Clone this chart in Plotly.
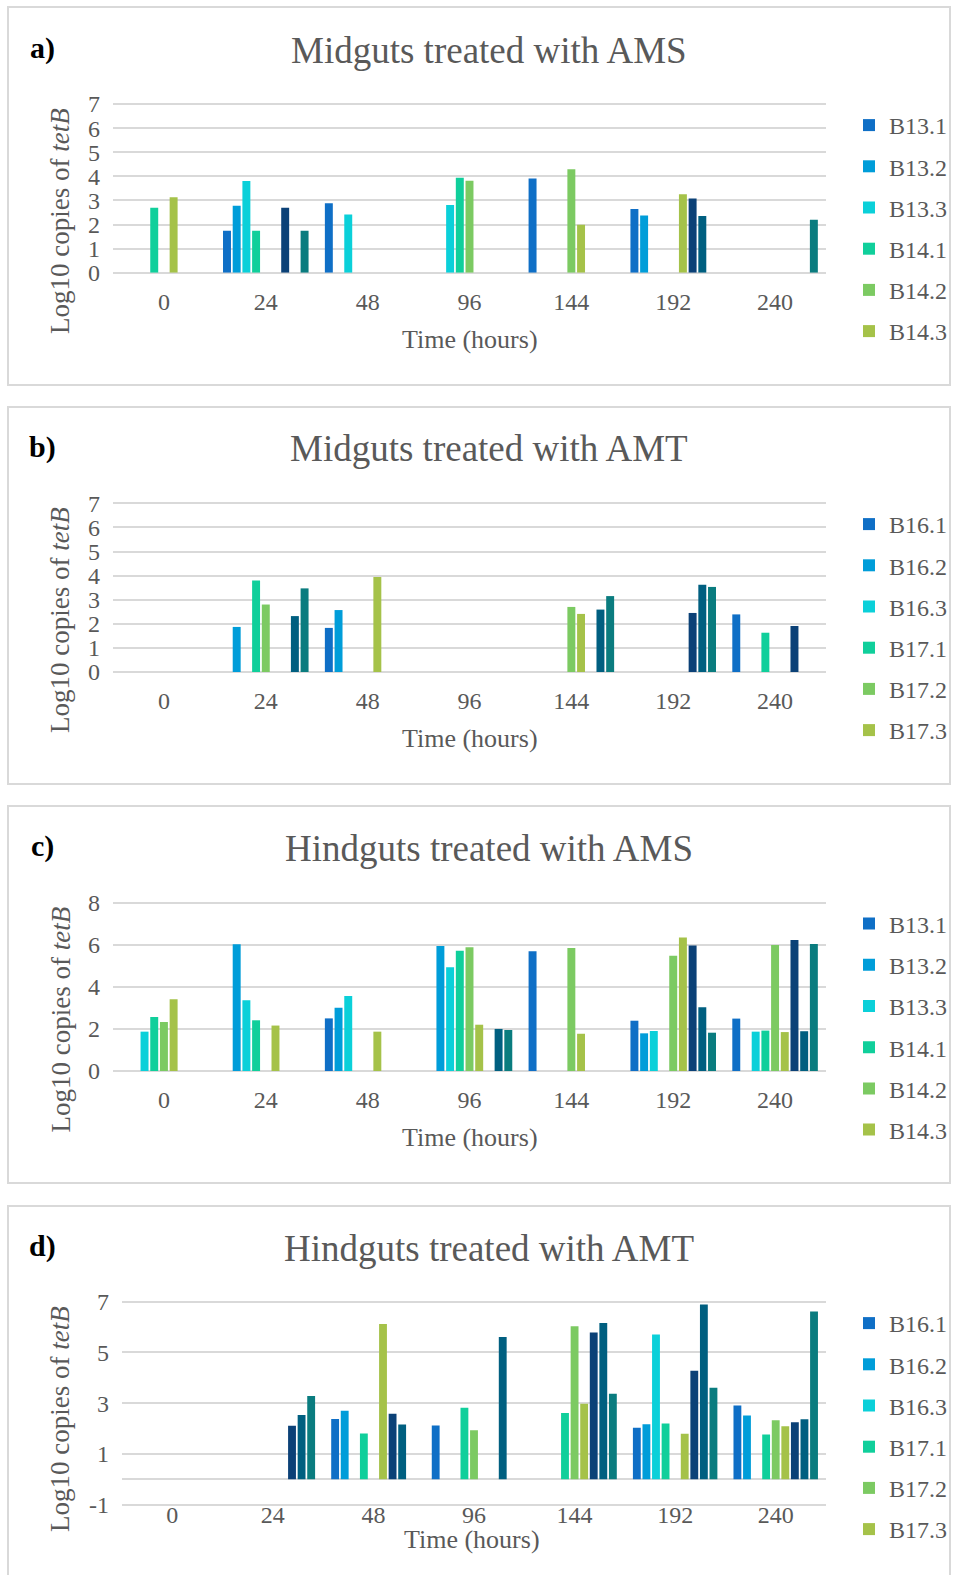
import plotly.graph_objects as go

# ---------------- data ----------------
categories = ["0", "24", "48", "96", "144", "192", "240"]

ams_names = ["B13.1", "B13.2", "B13.3", "B14.1", "B14.2", "B14.3", "B15.1", "B15.2", "B15.3"]
amt_names = ["B16.1", "B16.2", "B16.3", "B17.1", "B17.2", "B17.3", "B18.1", "B18.2", "B18.3"]

# y tick labels per panel
yticks_a = [0, 1, 2, 3, 4, 5, 6, 7]
yticks_b = [0, 1, 2, 3, 4, 5, 6, 7]
yticks_c = [0, 2, 4, 6, 8]
yticks_d = [-1, 1, 3, 5, 7]

# a) Midguts treated with AMS
mid_ams_B13_1 = [None, 1.74, 2.88, None, 3.91, 2.64, None]
mid_ams_B13_2 = [None, 2.78, None, None, None, 2.37, None]
mid_ams_B13_3 = [None, 3.80, 2.42, 2.81, None, None, None]
mid_ams_B14_1 = [2.70, 1.74, None, 3.94, None, None, None]
mid_ams_B14_2 = [None, None, None, 3.82, 4.29, None, None]
mid_ams_B14_3 = [3.13, None, None, None, 1.99, 3.26, None]
mid_ams_B15_1 = [None, 2.70, None, None, None, 3.08, None]
mid_ams_B15_2 = [None, None, None, None, None, 2.35, None]
mid_ams_B15_3 = [None, 1.74, None, None, None, None, 2.20]

# b) Midguts treated with AMT
mid_amt_B16_1 = [None, None, 1.83, None, None, None, 2.39]
mid_amt_B16_2 = [None, 1.87, 2.57, None, None, None, None]
mid_amt_B16_3 = [None, None, None, None, None, None, None]
mid_amt_B17_1 = [None, 3.80, None, None, None, None, 1.63]
mid_amt_B17_2 = [None, 2.80, None, None, 2.70, None, None]
mid_amt_B17_3 = [None, None, 3.94, None, 2.41, None, None]
mid_amt_B18_1 = [None, None, None, None, None, 2.45, 1.91]
mid_amt_B18_2 = [None, 2.32, None, None, 2.59, 3.62, None]
mid_amt_B18_3 = [None, 3.47, None, None, 3.15, 3.53, None]

# c) Hindguts treated with AMS
hind_ams_B13_1 = [None, None, 2.50, None, 5.69, 2.39, 2.49]
hind_ams_B13_2 = [None, 6.02, 3.00, 5.94, None, 1.79, None]
hind_ams_B13_3 = [1.87, 3.36, 3.57, 4.93, None, 1.90, 1.87]
hind_ams_B14_1 = [2.57, 2.41, None, 5.71, None, None, 1.92]
hind_ams_B14_2 = [2.33, None, None, 5.88, 5.85, 5.48, 5.99]
hind_ams_B14_3 = [3.41, 2.16, 1.87, 2.20, 1.77, 6.34, 1.85]
hind_ams_B15_1 = [None, None, None, None, None, 5.96, 6.23]
hind_ams_B15_2 = [None, None, None, 2.00, None, 3.03, 1.89]
hind_ams_B15_3 = [None, None, None, 1.95, None, 1.82, 6.04]

# d) Hindguts treated with AMT
hind_amt_B16_1 = [None, None, 2.37, 2.12, None, 2.03, 2.91]
hind_amt_B16_2 = [None, None, 2.70, None, None, 2.17, 2.51]
hind_amt_B16_3 = [None, None, None, None, None, 5.71, None]
hind_amt_B17_1 = [None, None, 1.80, 2.82, 2.61, 2.20, 1.76]
hind_amt_B17_2 = [None, None, None, 1.93, 6.03, None, 2.32]
hind_amt_B17_3 = [None, None, 6.12, None, 2.97, 1.79, 2.09]
hind_amt_B18_1 = [None, 2.11, 2.58, None, 5.78, 4.28, 2.24]
hind_amt_B18_2 = [None, 2.53, 2.16, 5.61, 6.16, 6.89, 2.36]
hind_amt_B18_3 = [None, 3.28, None, None, 3.37, 3.61, 6.61]

panel_titles = ["Midguts treated with AMS", "Midguts treated with AMT",
                "Hindguts treated with AMS", "Hindguts treated with AMT"]
panel_letters = ["a)", "b)", "c)", "d)"]

colors = ["#0F6FC6", "#009DD9", "#0BD0D9", "#10CF9B", "#7CCA62", "#A5C249",
          "#0B4177", "#005F80", "#0A7C7F"]

panels = [
    (ams_names, [mid_ams_B13_1, mid_ams_B13_2, mid_ams_B13_3, mid_ams_B14_1, mid_ams_B14_2,
                 mid_ams_B14_3, mid_ams_B15_1, mid_ams_B15_2, mid_ams_B15_3]),
    (amt_names, [mid_amt_B16_1, mid_amt_B16_2, mid_amt_B16_3, mid_amt_B17_1, mid_amt_B17_2,
                 mid_amt_B17_3, mid_amt_B18_1, mid_amt_B18_2, mid_amt_B18_3]),
    (ams_names, [hind_ams_B13_1, hind_ams_B13_2, hind_ams_B13_3, hind_ams_B14_1, hind_ams_B14_2,
                 hind_ams_B14_3, hind_ams_B15_1, hind_ams_B15_2, hind_ams_B15_3]),
    (amt_names, [hind_amt_B16_1, hind_amt_B16_2, hind_amt_B16_3, hind_amt_B17_1, hind_amt_B17_2,
                 hind_amt_B17_3, hind_amt_B18_1, hind_amt_B18_2, hind_amt_B18_3]),
]
yticks = [yticks_a, yticks_b, yticks_c, yticks_d]

# ---------------- layout geometry (pixels) ----------------
W, H = 956, 1575
FONT = "Liberation Serif"
GRAY = "#595959"
GRID = "#D9D9D9"


def px_x(v):
    return v / W


def px_y(v):
    return 1 - v / H


plot_boxes = [  # x0, x1, ytop, ybottom (pixel positions of range ends)
    (113, 826, 102.8, 272.7),
    (113, 826, 502.1, 672.0),
    (113, 826, 901.4, 1071.0),
    (122, 826, 1300.4, 1505.8),
]
y_ranges = [[0, 7.05], [0, 7.05], [0, 8.06], [-1.05, 7.05]]
frame_boxes = [(7, 385), (407, 784), (806, 1183), (1206, 1600)]
offsets = [0, 399, 798.5, 1198]

fig = go.Figure()
legend_keys = ["legend", "legend2", "legend3", "legend4"]

for p, (names, series) in enumerate(panels):
    xa = "x" if p == 0 else f"x{p+1}"
    ya = "y" if p == 0 else f"y{p+1}"
    for i, (nm, vals) in enumerate(zip(names, series)):
        fig.add_trace(go.Bar(
            x=categories, y=vals, name=nm,
            marker=dict(color=colors[i], line=dict(width=0)),
            xaxis=xa, yaxis=ya,
            legend=legend_keys[p],
            legendgroup=f"p{p}_{i}",
            showlegend=(i < 6),
        ))

layout = dict(
    width=W, height=H,
    margin=dict(l=0, r=0, t=0, b=0, autoexpand=False),
    paper_bgcolor="white", plot_bgcolor="white",
    barmode="group", bargap=0.143, bargroupgap=0.18,
    font=dict(family=FONT, color=GRAY, size=24),
    shapes=[], annotations=[],
)

for p in range(4):
    x0, x1, yt, yb = plot_boxes[p]
    sx = "" if p == 0 else str(p + 1)
    layout[f"xaxis{sx}"] = dict(
        domain=[px_x(x0), px_x(x1)],
        anchor=f"y{sx}",
        type="category",
        categoryorder="array", categoryarray=categories,
        showgrid=False, showline=False, zeroline=False,
        ticks="", ticklabelstandoff=(12 if p < 3 else -8),
        tickfont=dict(family=FONT, size=24, color=GRAY),
        automargin=False,
    )
    layout[f"yaxis{sx}"] = dict(
        domain=[px_y(yb), px_y(yt)],
        anchor=f"x{sx}",
        range=y_ranges[p],
        tickmode="array", tickvals=yticks[p], ticktext=[str(v) for v in yticks[p]],
        showgrid=True, gridcolor=GRID, gridwidth=2,
        zeroline=True, zerolinecolor=GRID, zerolinewidth=2,
        showline=False, ticks="", ticklabelstandoff=12,
        tickfont=dict(family=FONT, size=24, color=GRAY),
        automargin=False,
    )
    # legend
    layout[legend_keys[p]] = dict(
        x=px_x(849), xanchor="left",
        y=px_y(103 + offsets[p]), yanchor="top",
        bgcolor="rgba(0,0,0,0)",
        font=dict(family=FONT, size=24, color=GRAY),
        tracegroupgap=7, traceorder="grouped",
        itemclick=False,
    )
    # frame
    ft, fb = frame_boxes[p]
    layout["shapes"].append(dict(
        type="rect", xref="paper", yref="paper",
        x0=px_x(8), x1=px_x(950), y0=px_y(fb), y1=px_y(ft),
        line=dict(color=GRID, width=2), fillcolor="rgba(0,0,0,0)", layer="below",
    ))
    o = offsets[p]
    # panel letter
    layout["annotations"].append(dict(
        text=f"<b>{panel_letters[p]}</b>", xref="paper", yref="paper",
        x=px_x(42), y=px_y(48 + o), xanchor="center", yanchor="middle",
        showarrow=False, font=dict(family=FONT, size=30, color="black"),
    ))
    # panel title
    layout["annotations"].append(dict(
        text=panel_titles[p], xref="paper", yref="paper",
        x=px_x(489), y=px_y(50 + o), xanchor="center", yanchor="middle",
        showarrow=False, font=dict(family=FONT, size=37, color=GRAY),
    ))
    # y axis title
    layout["annotations"].append(dict(
        text="Log10 copies of <i>tetB</i>", xref="paper", yref="paper",
        x=px_x(60), y=px_y(221 + o), xanchor="center", yanchor="middle",
        textangle=-90, showarrow=False,
        font=dict(family=FONT, size=27, color=GRAY),
    ))
    # x axis title
    layout["annotations"].append(dict(
        text="Time (hours)", xref="paper", yref="paper",
        x=px_x(470 + (2 if p == 3 else 0)), y=px_y(339 + o + (2 if p == 3 else 0)),
        xanchor="center", yanchor="middle",
        showarrow=False, font=dict(family=FONT, size=26, color=GRAY),
    ))

fig.update_layout(**layout)
fig.write_html("out.html", config={"displayModeBar": False},
               post_script="document.body.style.margin='0';")
